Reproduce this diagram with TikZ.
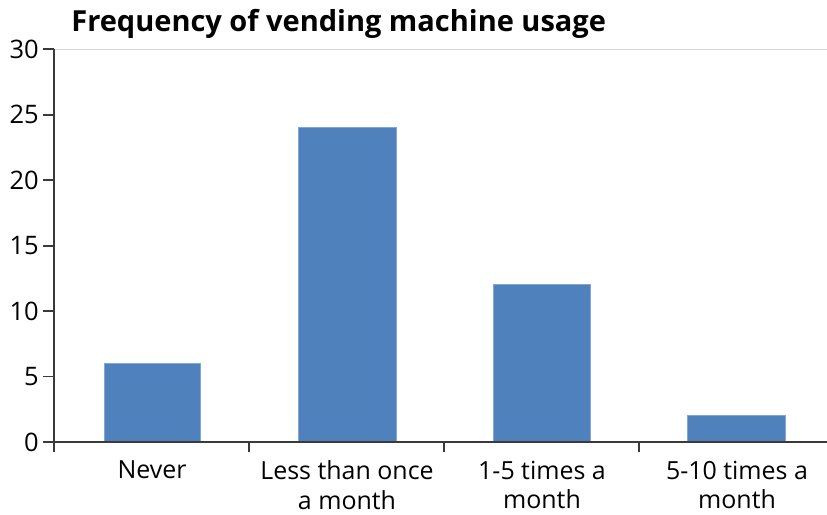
\documentclass[tikz,border=0pt]{standalone}
\usepackage{fontspec}
\setmainfont{Open Sans}
\usetikzlibrary{positioning}
\definecolor{barblue}{HTML}{4F81BD}
\definecolor{axisgray}{HTML}{3A3A3A}
\definecolor{framegray}{HTML}{D4D4D4}

\begin{document}
\begin{tikzpicture}[x=0.02cm, y=-0.02cm,
    bar/.style={fill=barblue, draw=barblue!70!white, line width=0.4pt},
    axisline/.style={draw=axisgray, line width=1.1pt},
    ticklabel/.style={font=\fontsize{14.5}{16}\selectfont, inner sep=0pt},
    catlabel/.style={font=\fontsize{14.2}{16.9}\selectfont, align=center, inner sep=0pt, anchor=north}]

  \useasboundingbox (0,0) rectangle (827,514);

  \node[font=\fontsize{16.5}{18}\bfseries, anchor=base west, inner sep=0pt] (title) at (71,31) {Frequency of vending machine usage};

  \begin{scope}[shift={(54,442)}, x=0.02cm, y=0.262cm]
    \coordinate (origin) at (0,0);
    \coordinate (top) at (0,30);
    \coordinate (xend) at (773,0);

    \draw[framegray, line width=0.6pt] (top) -- (773,30);

    \fill[bar] (50,0) rectangle (146,6);
    \fill[bar] (244,0) rectangle (342,24);
    \fill[bar] (439,0) rectangle (536,12);
    \fill[bar] (633,0) rectangle (731,2);

    \draw[axisline] (origin) -- (top);
    \draw[axisline] (-11,0) -- (xend);

    \foreach \v in {5,10,...,30}
      \draw[axisline] (-11,\v) -- (0,\v);
    \foreach \v in {0,5,...,30}
      \node[ticklabel, anchor=east] (y\v) at (-15,\v) {\v};

    \foreach \c in {0,195,390,585}
      \draw[axisline] (\c,0) -- (\c,-0.8);

    \node[catlabel] (never) at (98,-1.4) {Never};
    \node[catlabel] (lessonce) at (293,-1.4) {Less than once\\a month};
    \node[catlabel] (onefive) at (488,-1.4) {1-5 times a\\month};
    \node[catlabel] (fiveten) at (683,-1.4) {5-10 times a\\month};
  \end{scope}

\end{tikzpicture}
\end{document}
